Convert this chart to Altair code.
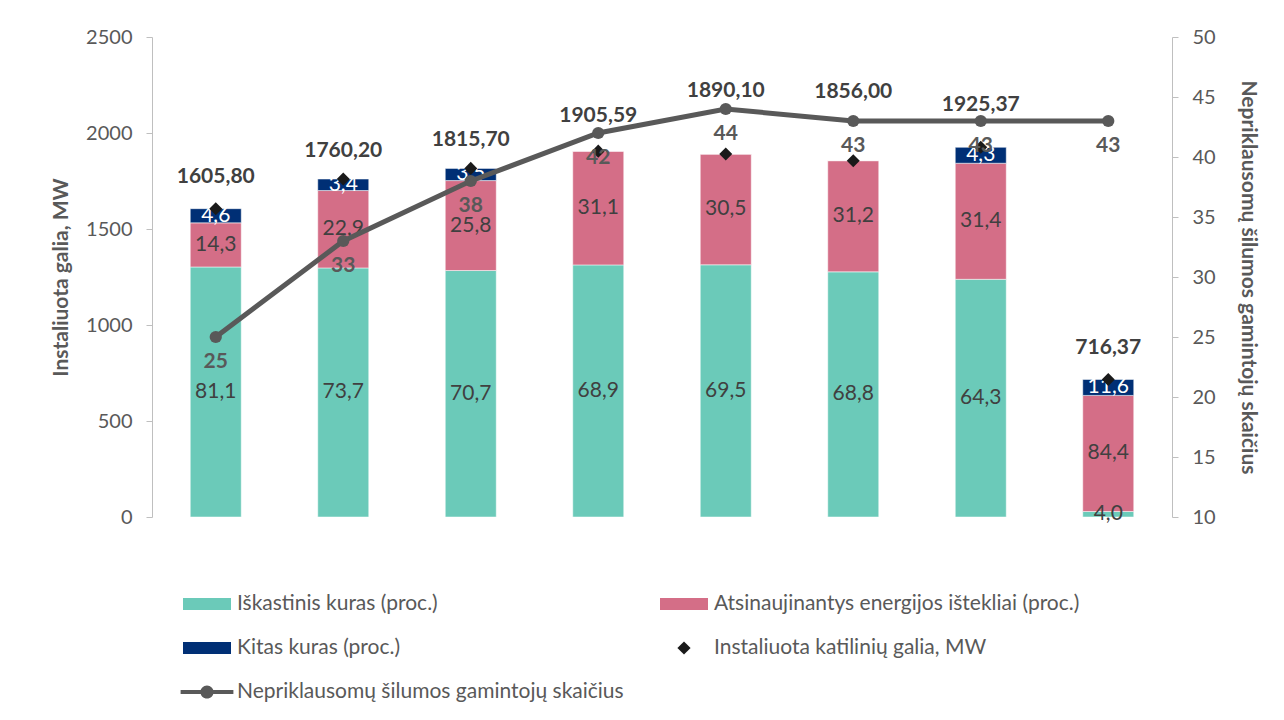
import altair as alt
import pandas as pd

# ---------------- data ----------------
years = ["2013 m.", "2014 m.", "2015 m.", "2016 m.", "2017 m.", "2018 m.", "2019 m.", "2019 m.*"]
capacity = [1605.80, 1760.20, 1815.70, 1905.59, 1890.10, 1856.00, 1925.37, 716.37]
fossil_pct = [81.1, 73.7, 70.7, 68.9, 69.5, 68.8, 64.3, 4.0]
renew_pct = [14.3, 22.9, 25.8, 31.1, 30.5, 31.2, 31.4, 84.4]
other_pct = [4.6, 3.4, 3.5, 0.0, 0.0, 0.0, 4.3, 11.6]
producers = [25, 33, 38, 42, 44, 43, 43, 43]

series_names = [
    "Iškastinis kuras (proc.)",
    "Atsinaujinantys energijos ištekliai (proc.)",
    "Kitas kuras (proc.)",
    "Instaliuota katilinių galia, MW",
    "Nepriklausomų šilumos gamintojų skaičius",
]

# ---------------- style ----------------
FONT = "Lato"
GRAY = "#595959"
DARK = "#404040"
AXIS_GRAY = "#BFBFBF"
series_colors = ["#6BCAB9", "#D46E87", "#002F75", "#1A1A1A", "#595959"]
PLOT_W, PLOT_H = 1020, 480
Y_MAX = 2500
total_label_lift_px = [32, 28, 28, 35, 63, 69, 42, 31]

# legend symbol shapes (unit = sqrt(symbolSize)/2 = 12 px)
rect_path = "M-2,-0.5H2V0.5H-2Z"
diamond_path = "M0,-0.55L0.55,0L0,0.55L-0.55,0Z"
line_path = ("M-2.2,-0.17H2.2V0.17H-2.2Z "
             "M0.55,0A0.55,0.55 0 1 1 -0.55,0A0.55,0.55 0 1 1 0.55,0Z")
series_shapes = [rect_path, rect_path, rect_path, diamond_path, line_path]


def fmt(v, d):
    return f"{v:.{d}f}".replace(".", ",")


# ---------------- tables ----------------
seg_rows = []
for i, yr in enumerate(years):
    start = 0.0
    for k, (name, pct, lab_col) in enumerate(zip(series_names[:3],
                                                 [fossil_pct[i], renew_pct[i], other_pct[i]],
                                                 [DARK, DARK, "white"])):
        h = capacity[i] * pct / 100.0
        seg_rows.append(dict(year=yr, series=name, start=start, end=start + h,
                             mid=start + h / 2, pct=pct, bcol=series_colors[k],
                             label=fmt(pct, 1) if pct > 0 else "", lcol=lab_col))
        start += h
seg_df = pd.DataFrame(seg_rows)

tot_df = pd.DataFrame(dict(
    year=years, capacity=capacity,
    label=[fmt(v, 2) for v in capacity],
    label_y=[c + lift * Y_MAX / PLOT_H for c, lift in zip(capacity, total_label_lift_px)],
))
prod_df = pd.DataFrame(dict(year=years, producers=producers,
                            label=[str(p) for p in producers]))
legend_df = pd.DataFrame(dict(series=series_names, year=[years[0]] * len(series_names),
                              v=[0] * len(series_names)))

color_scale = alt.Scale(domain=series_names, range=series_colors)

x_enc = alt.X("year:N", sort=years,
              scale=alt.Scale(paddingInner=0.6, paddingOuter=0.3),
              axis=alt.Axis(title=None, labelAngle=0, labelFontSize=20, labelColor=GRAY,
                            labelPadding=20, ticks=False,
                            domainColor="#D9D9D9", domainWidth=1.5))
x_plain = alt.X("year:N", sort=years, axis=None)

left_scale = alt.Scale(domain=[0, Y_MAX], nice=False)
right_scale = alt.Scale(domain=[10, 50], nice=False)

bars = alt.Chart(seg_df).mark_bar(stroke="white", strokeWidth=0.5).encode(
    x=x_enc,
    y=alt.Y("start:Q", scale=left_scale,
            axis=alt.Axis(values=[0, 500, 1000, 1500, 2000, 2500], grid=False, format="d",
                          title="Instaliuota galia, MW", titleFontSize=21,
                          titleFontWeight="bold", titleColor=GRAY, titlePadding=14,
                          labelFontSize=20, labelColor=GRAY, labelPadding=14,
                          tickSize=6, tickColor=AXIS_GRAY, domainColor=AXIS_GRAY)),
    y2="end:Q",
    color=alt.Color("bcol:N", scale=None),
)

seg_text = alt.Chart(seg_df).transform_filter("datum.pct > 0").mark_text(
    fontSize=21, baseline="middle").encode(
    x=x_plain,
    y=alt.Y("mid:Q", scale=left_scale, axis=None),
    text="label:N",
    color=alt.Color("lcol:N", scale=None),
)

legend_layer = alt.Chart(legend_df).mark_point(filled=True, opacity=0).encode(
    x=x_plain,
    y=alt.Y("v:Q", scale=left_scale, axis=None),
    color=alt.Color("series:N", scale=color_scale,
                    legend=alt.Legend(title=None, orient="none", legendX=43, legendY=555,
                                      direction="horizontal",
                                      columns=2, symbolSize=576, symbolStrokeWidth=0,
                                      symbolOpacity=1,
                                      labelFontSize=21, labelColor=GRAY,
                                      labelOffset=18, labelLimit=700, rowPadding=22,
                                      columnPadding=36)),
    shape=alt.Shape("series:N", scale=alt.Scale(domain=series_names, range=series_shapes)),
)

line = alt.Chart(prod_df).mark_line(color=GRAY, strokeWidth=5).encode(
    x=x_plain,
    y=alt.Y("producers:Q", scale=right_scale,
            axis=alt.Axis(orient="right", values=list(range(10, 55, 5)), grid=False,
                          title="Nepriklausomų šilumos gamintojų skaičius",
                          titleFontSize=21, titleFontWeight="bold", titleColor=GRAY,
                          titlePadding=22, labelFontSize=20, labelColor=GRAY,
                          labelPadding=14, tickSize=6, tickColor=AXIS_GRAY,
                          domainColor=AXIS_GRAY)),
)
line_pts = alt.Chart(prod_df).mark_circle(color=GRAY, size=150, opacity=1).encode(
    x=x_plain,
    y=alt.Y("producers:Q", scale=right_scale, axis=None),
)

diamonds = alt.Chart(tot_df).mark_point(shape="diamond", filled=True, size=170,
                                        color="#1A1A1A", opacity=1).encode(
    x=x_plain,
    y=alt.Y("capacity:Q", scale=left_scale, axis=None),
)

tot_text = alt.Chart(tot_df).mark_text(fontSize=21, fontWeight="bold",
                                       color=DARK, baseline="middle").encode(
    x=x_plain,
    y=alt.Y("label_y:Q", scale=left_scale, axis=None),
    text="label:N",
)

line_text = alt.Chart(prod_df).mark_text(fontSize=21, fontWeight="bold",
                                         color=GRAY, dy=25, baseline="middle").encode(
    x=x_plain,
    y=alt.Y("producers:Q", scale=right_scale, axis=None),
    text="label:N",
)

chart = alt.layer(
    bars, seg_text, legend_layer, line, line_pts, diamonds, tot_text, line_text
).resolve_scale(
    y="independent"
).properties(
    width=PLOT_W, height=PLOT_H,
    padding={"left": 42, "top": 19, "right": 4, "bottom": 4},
    background="white",
).configure(
    font=FONT
).configure_view(
    stroke=None
)

chart.save("out.html", embed_options={"renderer": "svg", "actions": False})
